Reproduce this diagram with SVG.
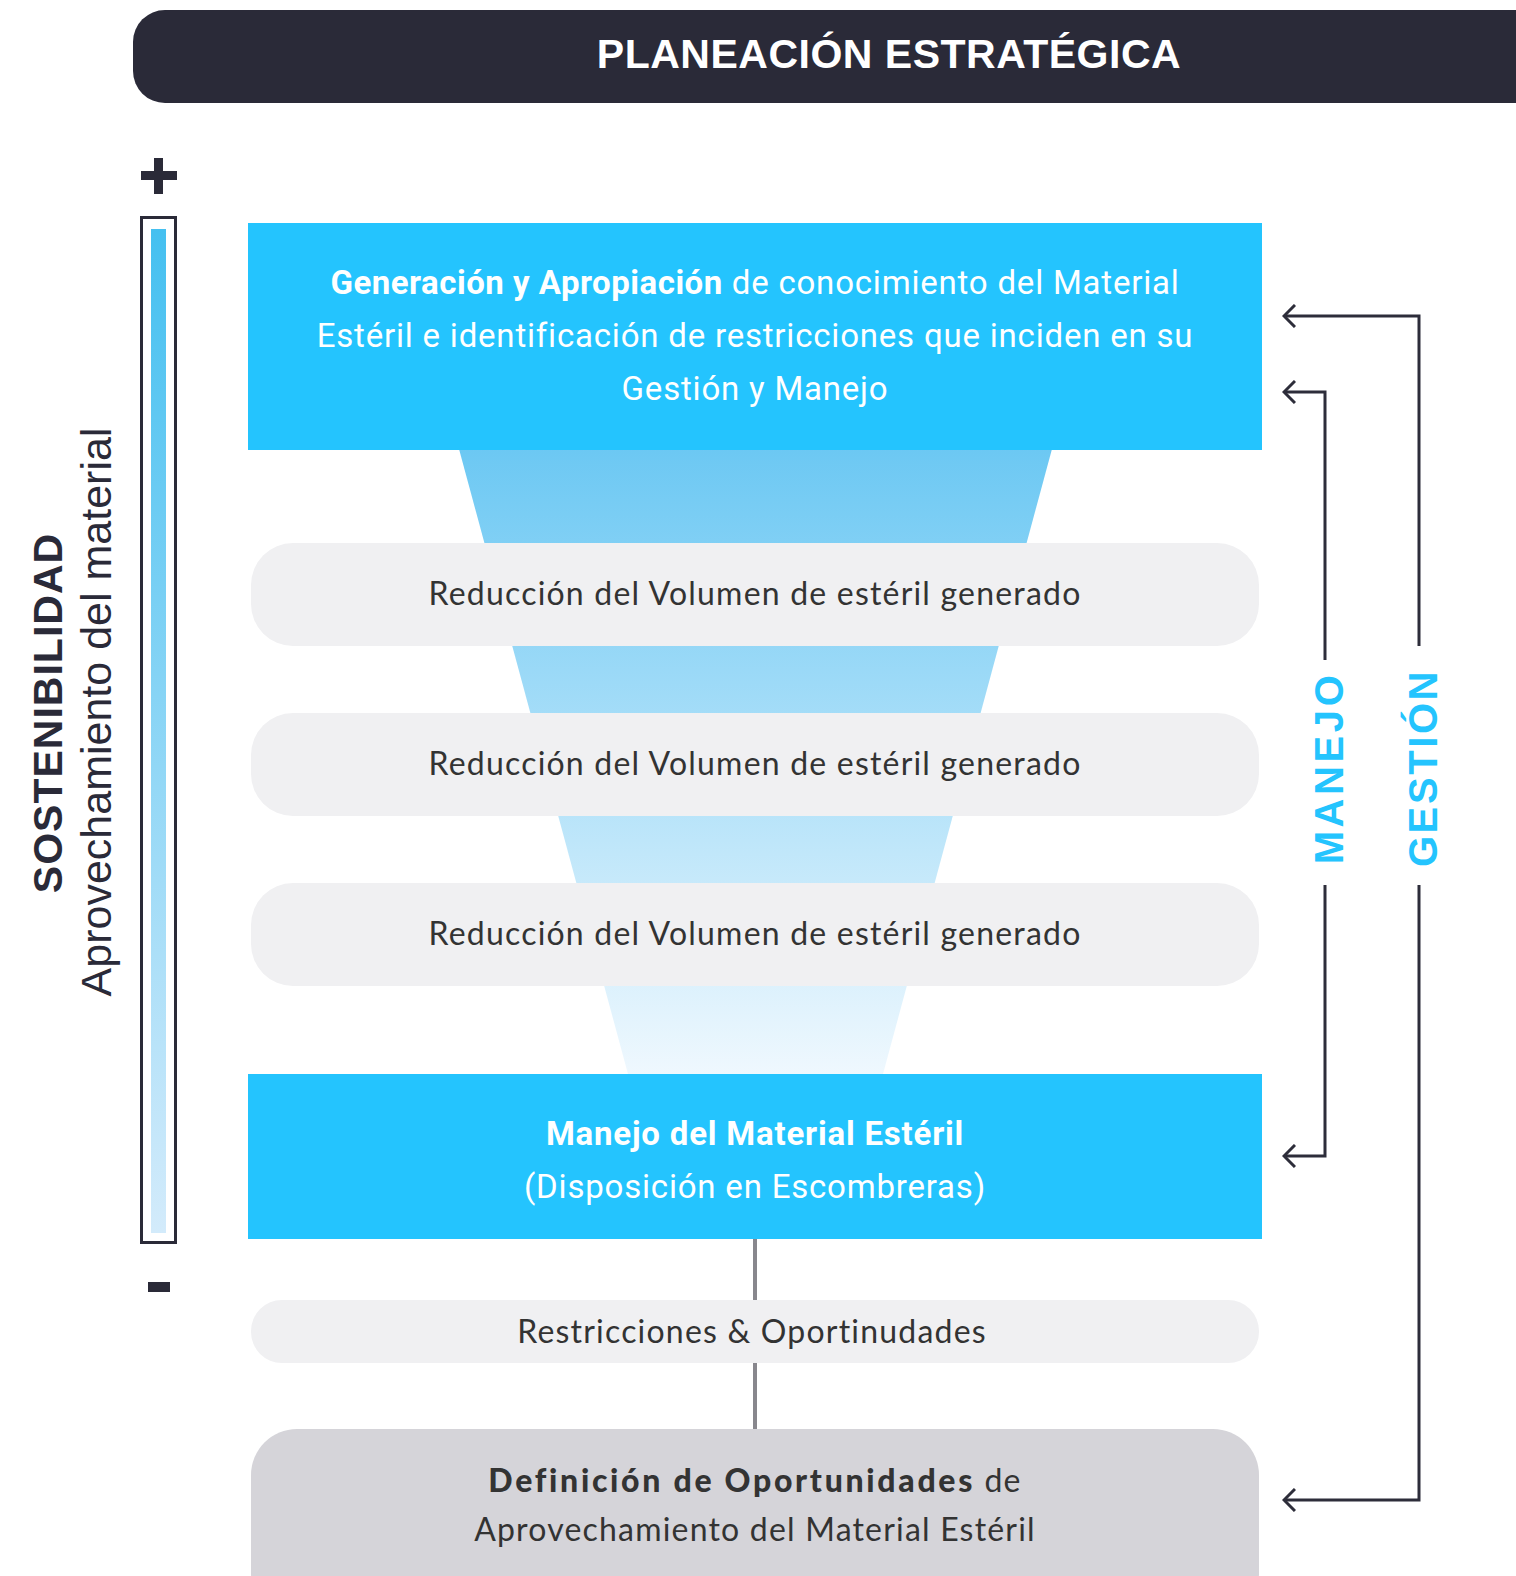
<svg xmlns="http://www.w3.org/2000/svg" width="1516" height="1576" viewBox="0 0 1516 1576">
<style>
.blue{fill:#24c4fe}
.pill{fill:#f0f0f2}
.dk{fill:#2a2a38}
.ln{stroke:#2d2d3a;stroke-width:3;fill:none}
.conn{stroke:#88878d;stroke-width:4;fill:none}
.tb{font-family:Roboto,"Liberation Sans",sans-serif;font-size:33px;fill:#fff;text-anchor:middle;letter-spacing:0.8px}
.tp{font-family:Lato,"Open Sans",sans-serif;font-size:32px;fill:#333;text-anchor:middle;letter-spacing:1.2px}
.side{font-family:"Liberation Sans",Arial,sans-serif;font-weight:bold;font-size:40px;fill:#24c4fe;text-anchor:middle}
</style>
<defs>
<linearGradient id="fun" x1="0" y1="0" x2="0" y2="1">
<stop offset="0" stop-color="#6cc8f3"/>
<stop offset="1" stop-color="#eff8fe"/>
</linearGradient>
<linearGradient id="bar" x1="0" y1="0" x2="0" y2="1">
<stop offset="0" stop-color="#45c0f0"/>
<stop offset="1" stop-color="#d3ebfb"/>
</linearGradient>
<marker id="ah" viewBox="0 0 14 24" refX="12" refY="12" markerWidth="14" markerHeight="24" markerUnits="userSpaceOnUse" orient="auto">
<path d="M1 1 L12 12 L1 23" fill="none" stroke="#2d2d3a" stroke-width="3"/>
</marker>
</defs>

<g id="title">
<rect x="133" y="10" width="1420" height="93" rx="32" class="dk"/>
<text x="889" y="68" font-family="'Liberation Sans',Arial,sans-serif" font-weight="bold" font-size="41" fill="#fff" text-anchor="middle" letter-spacing="0.5">PLANEACIÓN ESTRATÉGICA</text>
</g>

<g id="scale">
<rect x="154" y="158" width="9" height="36" class="dk"/>
<rect x="141" y="171" width="36" height="9" class="dk"/>
<rect x="141.5" y="217.5" width="34" height="1025" fill="none" stroke="#2a2a38" stroke-width="3"/>
<rect x="151" y="229" width="15" height="1004" fill="url(#bar)"/>
<rect x="148" y="1282" width="22" height="10" class="dk"/>
<text transform="translate(62 713) rotate(-90)" font-family="'Liberation Sans',Arial,sans-serif" font-weight="bold" font-size="41" fill="#2a2a38" text-anchor="middle" letter-spacing="1">SOSTENIBILIDAD</text>
<text transform="translate(111 712) rotate(-90)" font-family="'Liberation Sans',Arial,sans-serif" font-size="43" fill="#2a2a38" text-anchor="middle">Aprovechamiento del material</text>
</g>

<g id="funnel">
<polygon points="459,449 1052,449 883,1074 628,1074" fill="url(#fun)"/>
</g>

<g id="node-generacion">
<rect x="248" y="223" width="1014" height="227" class="blue"/>
<text class="tb" x="755" y="294"><tspan font-weight="bold" letter-spacing="0.5">Generación y Apropiación</tspan> de conocimiento del Material</text>
<text class="tb" x="755" y="347">Estéril e identificación de restricciones que inciden en su</text>
<text class="tb" x="755" y="400">Gestión y Manejo</text>
</g>

<g id="node-reduccion-1">
<rect x="251" y="543" width="1008" height="103" rx="42" class="pill"/>
<text class="tp" x="755" y="605">Reducción del Volumen de estéril generado</text>
</g>
<g id="node-reduccion-2">
<rect x="251" y="713" width="1008" height="103" rx="42" class="pill"/>
<text class="tp" x="755" y="775">Reducción del Volumen de estéril generado</text>
</g>
<g id="node-reduccion-3">
<rect x="251" y="883" width="1008" height="103" rx="42" class="pill"/>
<text class="tp" x="755" y="945">Reducción del Volumen de estéril generado</text>
</g>

<g id="node-manejo">
<rect x="248" y="1074" width="1014" height="165" class="blue"/>
<text class="tb" x="755" y="1145" font-weight="bold" letter-spacing="1.9">Manejo del Material Estéril</text>
<text class="tb" x="755" y="1198" letter-spacing="1.5">(Disposición en Escombreras)</text>
</g>

<g id="connectors">
<line class="conn" x1="755" y1="1239" x2="755" y2="1300"/>
<line class="conn" x1="755" y1="1363" x2="755" y2="1429"/>
<polyline class="ln" points="1419,646 1419,316 1284,316" marker-end="url(#ah)"/>
<polyline class="ln" points="1419,885 1419,1500 1284,1500" marker-end="url(#ah)"/>
<polyline class="ln" points="1325,660 1325,392 1284,392" marker-end="url(#ah)"/>
<polyline class="ln" points="1325,885 1325,1156 1284,1156" marker-end="url(#ah)"/>
</g>

<g id="label-manejo">
<text class="side" transform="translate(1343 768) rotate(-90)" letter-spacing="3.6">MANEJO</text>
</g>
<g id="label-gestion">
<text class="side" transform="translate(1437 768) rotate(-90)" letter-spacing="2.6">GESTIÓN</text>
</g>

<g id="node-restricciones">
<rect x="251" y="1300" width="1008" height="63" rx="31" class="pill"/>
<text class="tp" x="752" y="1343" font-family="Roboto,sans-serif" font-size="34" letter-spacing="1.1">Restricciones &amp; Oportinudades</text>
</g>

<g id="node-definicion">
<rect x="251" y="1429" width="1008" height="190" rx="46" fill="#d5d4d9"/>
<text class="tp" x="755" y="1492" font-size="33" letter-spacing="1"><tspan font-weight="900" letter-spacing="2.7">Definición de Oportunidades</tspan> de</text>
<text class="tp" x="755" y="1541" font-size="33" letter-spacing="1">Aprovechamiento del Material Estéril</text>
</g>
</svg>
